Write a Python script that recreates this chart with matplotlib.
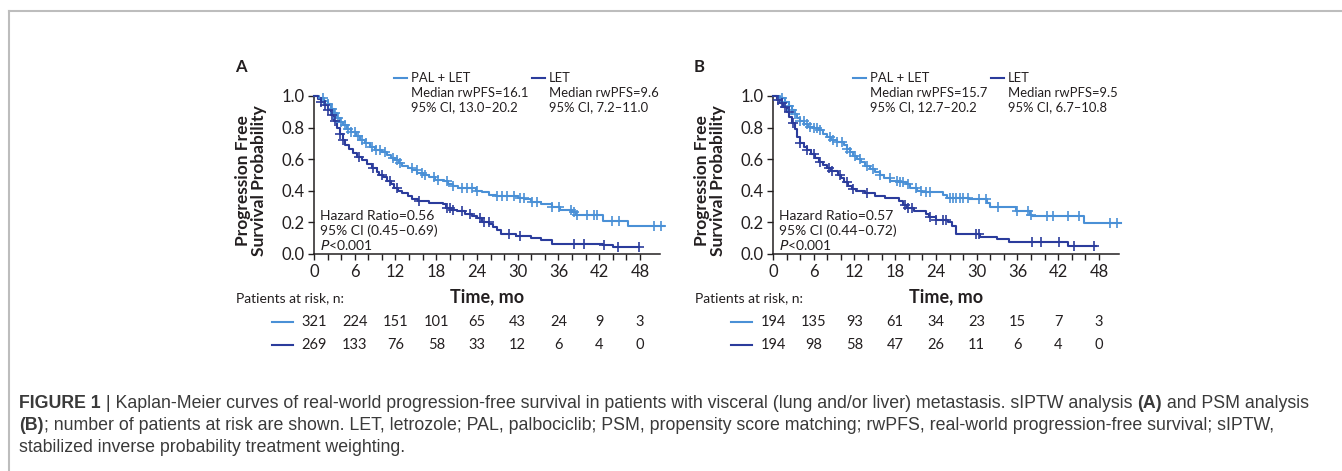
import numpy as np
import matplotlib
matplotlib.use("Agg")
import matplotlib.pyplot as plt
from matplotlib import transforms
from matplotlib.lines import Line2D

# ---------------- data ----------------
risk_times = [0, 6, 12, 18, 24, 30, 36, 42, 48]

# Panel A (sIPTW)
a_pal_t = [0, 0.8, 1.5, 2.0, 2.5, 3.0, 3.4, 3.8, 4.3, 4.9, 5.5, 6.2, 6.8, 7.5, 8.2, 9.0, 10.0, 10.8, 11.4,
           11.9, 12.5, 13.0, 13.8, 14.5, 15.2, 16.1, 17.0, 17.8, 19.2, 19.8, 20.5, 21.2, 23.8, 24.8, 25.8,
           26.8, 30.0, 31.0, 32.0, 33.5, 35.0, 36.3, 38.0, 38.6, 42.5, 46.3, 51.5]
a_pal_s = [1.0, 0.985, 0.97, 0.95, 0.92, 0.89, 0.86, 0.835, 0.815, 0.79, 0.77, 0.745, 0.72, 0.70, 0.68, 0.66,
           0.645, 0.625, 0.61, 0.595, 0.575, 0.56, 0.545, 0.53, 0.515, 0.50, 0.485, 0.47, 0.46, 0.445, 0.43,
           0.415, 0.40, 0.39, 0.375, 0.365, 0.355, 0.345, 0.33, 0.315, 0.30, 0.28, 0.265, 0.245, 0.21, 0.175, 0.175]
a_pal_cens = [1.3, 2.1, 2.6, 3.1, 3.5, 4.0, 4.5, 5.0, 5.5, 6.0, 6.5, 7.0, 7.7, 8.5, 9.2, 9.7, 10.4, 11.7, 12.2,
              12.7, 14.4, 15.1, 15.9, 16.4, 17.6, 18.3, 19.6, 20.5, 21.8, 22.5, 23.3, 24.0, 26.9, 27.7, 28.4,
              29.4, 30.4, 30.9, 32.1, 32.9, 35.1, 36.1, 37.8, 38.3, 38.8, 40.2, 41.2, 41.7, 43.9, 44.9, 50.1, 51.1]

a_let_t = [0, 0.6, 1.0, 1.5, 2.0, 2.5, 3.0, 3.4, 3.8, 4.2, 4.6, 5.2, 5.8, 6.4, 7.0, 7.8, 8.5, 9.3, 9.6, 10.2,
           10.8, 11.3, 11.8, 12.3, 13.0, 13.8, 14.5, 15.3, 17.0, 19.0, 19.5, 20.2, 21.0, 22.3, 23.3, 24.0,
           24.8, 25.8, 26.4, 27.0, 27.6, 29.8, 32.0, 33.5, 35.0, 42.5, 44.0, 47.9]
a_let_s = [1.0, 0.98, 0.96, 0.94, 0.91, 0.88, 0.84, 0.80, 0.76, 0.72, 0.69, 0.665, 0.64, 0.615, 0.595, 0.57,
           0.545, 0.52, 0.50, 0.485, 0.46, 0.44, 0.42, 0.40, 0.385, 0.365, 0.35, 0.335, 0.325, 0.315, 0.29,
           0.28, 0.27, 0.255, 0.24, 0.225, 0.205, 0.19, 0.17, 0.15, 0.125, 0.115, 0.10, 0.09, 0.065, 0.055,
           0.045, 0.045]
a_let_cens = [1.1, 1.6, 2.1, 2.6, 3.1, 3.8, 4.3, 6.7, 8.7, 10.0, 11.2, 12.2, 15.4, 19.6, 20.0, 20.5, 21.8,
              23.0, 24.5, 25.0, 25.7, 28.7, 30.4, 38.3, 39.8, 42.7, 44.7, 47.9]

# Panel B (PSM)
b_pal_t = [0, 1.0, 1.8, 2.3, 2.8, 3.2, 3.6, 4.0, 4.6, 5.2, 6.0, 6.8, 7.4, 8.0, 8.6, 9.4, 10.4, 10.9, 11.3,
           11.8, 12.3, 13.0, 13.6, 14.3, 15.0, 15.7, 16.4, 17.3, 18.6, 19.6, 20.2, 21.2, 22.0, 25.0, 25.6,
           28.8, 31.5, 32.0, 35.8, 37.8, 38.2, 45.8, 51.2]
b_pal_s = [1.0, 0.985, 0.96, 0.935, 0.91, 0.885, 0.86, 0.84, 0.82, 0.805, 0.795, 0.785, 0.76, 0.74, 0.72,
           0.71, 0.69, 0.665, 0.645, 0.62, 0.60, 0.58, 0.56, 0.54, 0.52, 0.50, 0.48, 0.465, 0.455, 0.44, 0.42,
           0.40, 0.39, 0.375, 0.355, 0.345, 0.325, 0.295, 0.275, 0.245, 0.24, 0.195, 0.195]
b_pal_cens = [1.3, 1.8, 2.3, 2.8, 3.3, 4.0, 4.5, 5.0, 5.5, 6.0, 6.5, 6.9, 8.4, 8.9, 9.4, 10.1, 10.9, 11.3,
              12.1, 12.8, 13.8, 14.8, 15.7, 17.2, 18.2, 18.7, 19.2, 19.9, 21.1, 21.8, 22.6, 23.1, 26.0, 26.5,
              27.0, 27.5, 28.0, 28.7, 30.4, 31.4, 33.1, 36.0, 37.5, 38.0, 40.4, 41.2, 43.4, 45.1, 49.7, 50.7]

b_let_t = [0, 0.6, 1.0, 1.5, 2.0, 2.4, 2.8, 3.2, 3.6, 4.0, 4.6, 5.0, 5.6, 6.2, 6.8, 7.4, 8.0, 8.6, 9.5, 10.0,
           10.5, 11.0, 11.6, 12.2, 13.5, 15.0, 16.5, 18.6, 19.2, 19.8, 20.8, 22.5, 23.0, 24.0, 25.8, 26.3,
           27.0, 30.5, 33.0, 34.8, 43.5, 47.5]
b_let_s = [1.0, 0.975, 0.955, 0.93, 0.90, 0.87, 0.83, 0.79, 0.74, 0.70, 0.68, 0.66, 0.635, 0.61, 0.585, 0.565,
           0.545, 0.525, 0.50, 0.48, 0.455, 0.43, 0.41, 0.40, 0.385, 0.37, 0.355, 0.335, 0.31, 0.29, 0.27,
           0.255, 0.235, 0.215, 0.20, 0.175, 0.125, 0.11, 0.095, 0.075, 0.05, 0.05]
b_let_cens = [0.8, 1.3, 1.8, 2.3, 3.0, 4.0, 5.0, 6.0, 6.9, 8.2, 8.7, 9.9, 10.9, 11.8, 13.8, 19.4, 19.9, 20.4,
              23.1, 24.0, 25.0, 25.5, 29.9, 30.4, 38.2, 39.4, 42.1, 44.3, 47.3]

a_risk_pal = [321, 224, 151, 101, 65, 43, 24, 9, 3]
a_risk_let = [269, 133, 76, 58, 33, 12, 6, 4, 0]
b_risk_pal = [194, 135, 93, 61, 34, 23, 15, 7, 3]
b_risk_let = [194, 98, 58, 47, 26, 11, 6, 4, 0]

a_legend_pal = ["PAL + LET", "Median rwPFS=16.1", "95% CI, 13.0\u201320.2"]
a_legend_let = ["LET", "Median rwPFS=9.6", "95% CI, 7.2\u201311.0"]
b_legend_pal = ["PAL + LET", "Median rwPFS=15.7", "95% CI, 12.7\u201320.2"]
b_legend_let = ["LET", "Median rwPFS=9.5", "95% CI, 6.7\u201310.8"]
a_hr = ["Hazard Ratio=0.56", "95% CI (0.45\u20130.69)"]
b_hr = ["Hazard Ratio=0.57", "95% CI (0.44\u20130.72)"]

# ---------------- style ----------------
W, H = 1342, 471
LIGHT = "#4a90d6"
DARK = "#2b3c9c"
INK = "#231f20"
FONT = ["Lato", "DejaVu Sans"]
plt.rcParams["font.family"] = FONT

fig = plt.figure(figsize=(W / 100, H / 100), dpi=100)


def fx(px):
    return px / W


def fy(py):
    return 1 - py / H


# frame
fig.add_artist(Line2D([fx(9), fx(9)], [fy(11), 0], color="#bdbdbd", lw=1.5))
fig.add_artist(Line2D([fx(9), 1], [fy(11), fy(11)], color="#bdbdbd", lw=1.5))

XMAX = 51


def surv_at(t_list, s_list, t):
    idx = np.searchsorted(np.asarray(t_list), t, side="right") - 1
    return np.asarray(s_list)[idx]


def panel(x0, letter, pal_t, pal_s, pal_c, let_t, let_s, let_c, leg_pal, leg_let, hr, r_pal, r_let):
    ax_w = 6.79 * XMAX
    ax = fig.add_axes([fx(x0), fy(254), fx(ax_w), (254 - 96) / H])
    for t, s, c, col in [(pal_t, pal_s, pal_c, LIGHT), (let_t, let_s, let_c, DARK)]:
        ax.plot(t, s, drawstyle="steps-post", color=col, lw=1.5, clip_on=False, zorder=3)
        ax.plot(c, surv_at(t, s, c), ls="none", marker="+", ms=6.5, mew=1.2, color=col,
                clip_on=False, zorder=4)
    ax.set_xlim(0, XMAX)
    ax.set_ylim(0, 1.0)
    ax.set_xticks(np.arange(0, 49, 2))
    ax.set_xticklabels([str(v) if v % 6 == 0 else "" for v in range(0, 49, 2)])
    ax.set_yticks(np.arange(0, 1.01, 0.2))
    ax.set_yticklabels([f"{v:.1f}" for v in np.arange(0, 1.01, 0.2)])
    for side in ["top", "right"]:
        ax.spines[side].set_visible(False)
    for side in ["left", "bottom"]:
        ax.spines[side].set_color(INK)
        ax.spines[side].set_linewidth(1.1)
    ax.tick_params(axis="both", direction="out", length=4.5, width=1.0, color=INK,
                   labelsize=12, labelcolor=INK)
    ax.tick_params(axis="x", pad=3)
    ax.tick_params(axis="y", pad=2)
    ax.patch.set_alpha(0)

    # y label
    fig.text(fx(x0 - 63), fy(181), "Progression Free\nSurvival Probability", rotation=90,
             ha="center", va="center", fontsize=12.5, fontweight="bold", color=INK, linespacing=1.0)
    # panel letter
    fig.text(fx(x0 - 79), fy(67), letter, ha="left", va="center", fontsize=12,
             fontweight="bold", color=INK)

    # legend
    for (lx, lines, col) in [(x0 + 80, leg_pal, LIGHT), (x0 + 218, leg_let, DARK)]:
        fig.add_artist(Line2D([fx(lx), fx(lx + 13)], [fy(78), fy(78)], color=col, lw=1.5))
        for k, txt in enumerate(lines):
            fig.text(fx(lx + 17), fy(78 + 14.5 * k), txt, ha="left", va="center",
                     fontsize=9.4, color=INK)

    # hazard ratio block
    fig.text(fx(x0 + 6), fy(216), hr[0], ha="left", va="center", fontsize=10, color=INK)
    fig.text(fx(x0 + 6), fy(231), hr[1], ha="left", va="center", fontsize=10, color=INK)
    fig.text(fx(x0 + 6), fy(245), "$\\it{P}$<0.001", ha="left", va="center", fontsize=10,
             color=INK)

    # axis title
    fig.text(fx(x0 + 173), fy(297), "Time, mo", ha="center", va="center", fontsize=13,
             fontweight="bold", color=INK)

    # risk table
    fig.text(fx(x0 - 78), fy(298), "Patients at risk, n:", ha="left", va="center",
             fontsize=10, color=INK)
    tr = transforms.blended_transform_factory(ax.transData, fig.transFigure)
    for row_y, vals, col in [(322, r_pal, LIGHT), (345, r_let, DARK)]:
        fig.add_artist(Line2D([fx(x0 - 42), fx(x0 - 21)], [fy(row_y), fy(row_y)], color=col, lw=1.5))
        for t, v in zip(risk_times, vals):
            ax.text(t, fy(row_y), str(v), transform=tr, ha="center", va="center",
                    fontsize=10.5, color=INK, clip_on=False)
    return ax


panel(314, "A", a_pal_t, a_pal_s, a_pal_cens, a_let_t, a_let_s, a_let_cens,
      a_legend_pal, a_legend_let, a_hr, a_risk_pal, a_risk_let)
panel(773, "B", b_pal_t, b_pal_s, b_pal_cens, b_let_t, b_let_s, b_let_cens,
      b_legend_pal, b_legend_let, b_hr, b_risk_pal, b_risk_let)

# ---------------- caption ----------------
CAP = ["Liberation Sans", "DejaVu Sans"]
CAPC = "#3a3a3a"
cap_size = 12.8
cap_lines = [
    [("FIGURE 1", True), (" | Kaplan-Meier curves of real-world progression-free survival in patients with visceral "
                          "(lung and/or liver) metastasis. sIPTW analysis ", False), ("(A)", True),
     (" and PSM analysis", False)],
    [("(B)", True), ("; number of patients at risk are shown. LET, letrozole; PAL, palbociclib; PSM, propensity "
                     "score matching; rwPFS, real-world progression-free survival; sIPTW,", False)],
    [("stabilized inverse probability treatment weighting.", False)],
]
for i, parts in enumerate(cap_lines):
    prev = None
    for txt, bold in parts:
        kw = dict(fontsize=cap_size, color=CAPC, family=CAP, fontweight="bold" if bold else "normal")
        if prev is None:
            prev = fig.text(fx(19), fy(403 + 22 * i), txt, ha="left", va="center", **kw)
        else:
            prev = plt.annotate(txt, xy=(1, 0), xycoords=prev, ha="left", va="bottom",
                                annotation_clip=False, **kw)

fig.savefig("out.png", dpi=100)
